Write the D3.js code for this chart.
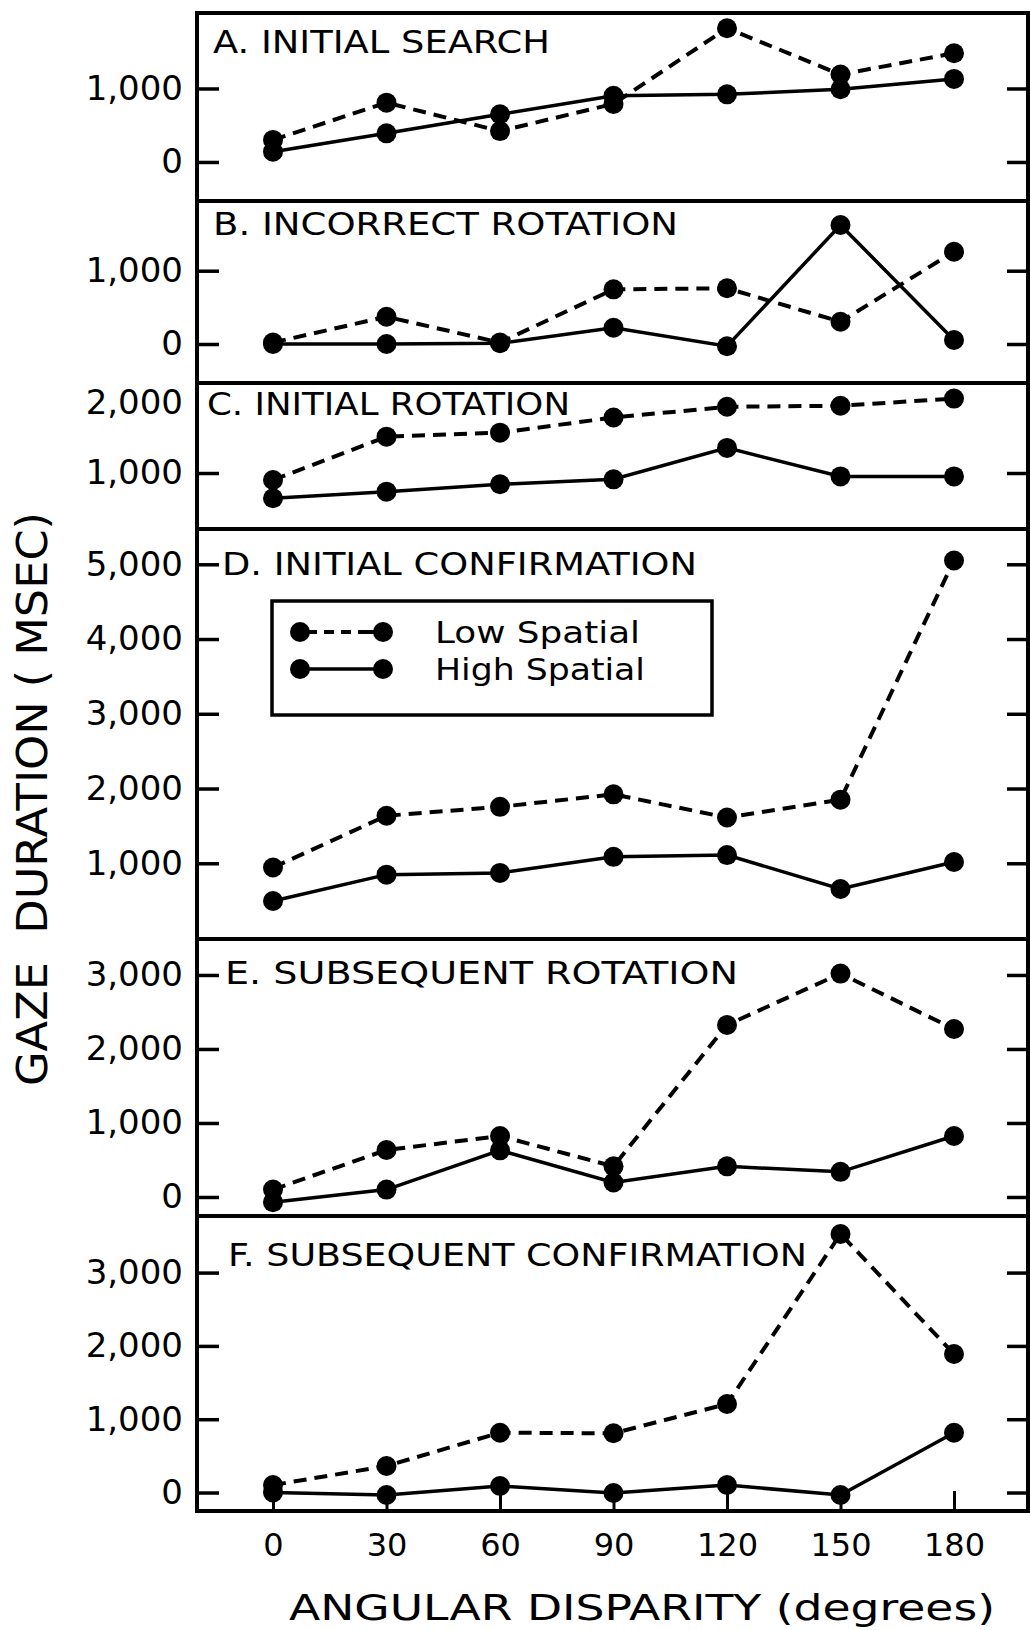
<!DOCTYPE html>
<html>
<head>
<meta charset="utf-8">
<script src="https://cdn.jsdelivr.net/npm/d3@7"></script>
<style>
  html, body { margin: 0; padding: 0; background: #fff; }
  svg { display: block; }
  text { font-family: "DejaVu Sans", sans-serif; fill: #000; }
</style>
</head>
<body>
<script>
// ---------------- DATA ----------------
const angles = [0, 30, 60, 90, 120, 150, 180];
const panelLabels = [
  "A. INITIAL SEARCH",
  "B. INCORRECT ROTATION",
  "C. INITIAL ROTATION",
  "D. INITIAL CONFIRMATION",
  "E. SUBSEQUENT ROTATION",
  "F. SUBSEQUENT CONFIRMATION"
];
const lowSpatialA  = [300, 807, 420, 790, 1820, 1190, 1480];
const highSpatialA = [140, 390, 650, 900, 920, 990, 1130];
const lowSpatialB  = [20, 372, 20, 746, 760, 304, 1259];
const highSpatialB = [0, 0, 10, 222, -30, 1623, 55];
const lowSpatialC  = [900, 1519, 1576, 1793, 1946, 1961, 2063];
const highSpatialC = [639, 733, 839, 910, 1359, 951, 951];
const lowSpatialD  = [943, 1636, 1755, 1922, 1612, 1851, 5051];
const highSpatialD = [495, 848, 871, 1086, 1110, 656, 1017];
const lowSpatialE  = [100, 635, 824, 414, 2324, 3019, 2270];
const highSpatialE = [-70, 100, 630, 196, 414, 340, 824];
const lowSpatialF  = [102, 362, 816, 808, 1207, 3527, 1890];
const highSpatialF = [0, -34, 89, -7, 102, -34, 816];

const yTicksA = [0, 1000];
const yTicksB = [0, 1000];
const yTicksC = [1000, 2000];
const yTicksD = [1000, 2000, 3000, 4000, 5000];
const yTicksE = [0, 1000, 2000, 3000];
const yTicksF = [0, 1000, 2000, 3000];

const legendLabels = ["Low Spatial", "High Spatial"];
const yAxisTitle = "GAZE  DURATION ( MSEC)";
const xAxisTitle = "ANGULAR DISPARITY (degrees)";

// ---------------- LAYOUT ----------------
const W = 1030, H = 1630;
const plotLeft = 197, plotRight = 1028, plotTop = 13, plotBottom = 1511;

const panelLayout = [
  { top: 13,   bottom: 201,  domain: [-531, 2027], tx: 213, ty: 40, tl: 337 },
  { top: 201,  bottom: 383,  domain: [-532, 1951], tx: 213, ty: 34, tl: 465 },
  { top: 383,  bottom: 529,  domain: [200, 2286],  tx: 207, ty: 32, tl: 363 },
  { top: 529,  bottom: 939,  domain: [-13, 5472],  tx: 222, ty: 46, tl: 475 },
  { top: 939,  bottom: 1216, domain: [-257, 3486], tx: 225, ty: 45, tl: 513 },
  { top: 1216, bottom: 1511, domain: [-252, 3772], tx: 228, ty: 50, tl: 579 }
];
const lowSeries  = [lowSpatialA, lowSpatialB, lowSpatialC, lowSpatialD, lowSpatialE, lowSpatialF];
const highSeries = [highSpatialA, highSpatialB, highSpatialC, highSpatialD, highSpatialE, highSpatialF];
const yTickSets  = [yTicksA, yTicksB, yTicksC, yTicksD, yTicksE, yTicksF];

const svg = d3.select("body").append("svg")
  .attr("width", W).attr("height", H);

const x = d3.scaleLinear().domain([0, 180]).range([273, 954]);
const fmt = d3.format(",");

const lineW = 3.5, dashW = 4, R = 10;

panelLayout.forEach((p, i) => {
  const y = d3.scaleLinear().domain(p.domain).range([p.bottom, p.top]);
  const g = svg.append("g");

  const la = g.append("g").attr("transform", `translate(${plotLeft},0)`)
    .call(d3.axisLeft(y).tickValues(yTickSets[i]).tickSize(-22).tickPadding(14).tickFormat(fmt));
  la.select(".domain").remove();
  la.selectAll("line").attr("stroke", "#000").attr("stroke-width", lineW);
  la.selectAll("text").attr("font-size", 34).attr("font-family", "DejaVu Sans").attr("fill", "#000");
  const ra = g.append("g").attr("transform", `translate(${plotRight},0)`)
    .call(d3.axisRight(y).tickValues(yTickSets[i]).tickSize(-21).tickFormat(""));
  ra.select(".domain").remove();
  ra.selectAll("line").attr("stroke", "#000").attr("stroke-width", lineW);
  if (i === 2) {
    la.selectAll(".tick").filter(d => d === 2000).select("line").remove();
    ra.selectAll(".tick").filter(d => d === 2000).remove();
  }

  g.append("text")
    .attr("x", p.tx).attr("y", p.top + p.ty)
    .attr("font-size", 32)
    .attr("textLength", p.tl).attr("lengthAdjust", "spacingAndGlyphs")
    .text(panelLabels[i]);

  const line = d3.line().x((d, k) => x(angles[k])).y(d => y(d));

  g.append("path").datum(lowSeries[i])
    .attr("d", line).attr("fill", "none").attr("stroke", "#000")
    .attr("stroke-width", dashW).attr("stroke-dasharray", "13,8");
  g.append("path").datum(highSeries[i])
    .attr("d", line).attr("fill", "none").attr("stroke", "#000")
    .attr("stroke-width", lineW);

  g.selectAll("circle.low").data(lowSeries[i]).enter().append("circle")
    .attr("cx", (d, k) => x(angles[k])).attr("cy", d => y(d)).attr("r", R).attr("fill", "#000");
  g.selectAll("circle.high").data(highSeries[i]).enter().append("circle")
    .attr("cx", (d, k) => x(angles[k])).attr("cy", d => y(d)).attr("r", R).attr("fill", "#000");

  if (i < panelLayout.length - 1) {
    svg.append("line").attr("x1", plotLeft).attr("x2", plotRight)
      .attr("y1", p.bottom).attr("y2", p.bottom)
      .attr("stroke", "#000").attr("stroke-width", 4);
  }
});

svg.append("rect")
  .attr("x", plotLeft).attr("y", plotTop)
  .attr("width", plotRight - plotLeft).attr("height", plotBottom - plotTop)
  .attr("fill", "none").attr("stroke", "#000").attr("stroke-width", 4);

const xa = svg.append("g").attr("transform", `translate(0,${plotBottom})`)
  .call(d3.axisBottom(x).tickValues(angles).tickSize(-20).tickPadding(22));
xa.select(".domain").remove();
xa.selectAll("line").attr("stroke", "#000").attr("stroke-width", 3);
xa.selectAll("text").attr("font-size", 32).attr("font-family", "DejaVu Sans").attr("fill", "#000");

svg.append("text")
  .attr("transform", "translate(47,799) rotate(-90)")
  .attr("text-anchor", "middle")
  .attr("font-size", 43)
  .attr("xml:space", "preserve")
  .style("white-space", "pre")
  .attr("textLength", 574).attr("lengthAdjust", "spacingAndGlyphs")
  .text(yAxisTitle);

svg.append("text")
  .attr("x", 289).attr("y", 1620)
  .attr("font-size", 36)
  .attr("textLength", 706).attr("lengthAdjust", "spacingAndGlyphs")
  .text(xAxisTitle);

// legend
const lg = svg.append("g");
lg.append("rect").attr("x", 272).attr("y", 601).attr("width", 440).attr("height", 114)
  .attr("fill", "#fff").attr("stroke", "#000").attr("stroke-width", 3.5);
const legendRows = [632, 669];
legendLabels.forEach((lab, k) => {
  const yy = legendRows[k];
  lg.append("line").attr("x1", 300).attr("x2", 383).attr("y1", yy).attr("y2", yy)
    .attr("stroke", "#000").attr("stroke-width", k === 0 ? dashW : lineW)
    .attr("stroke-dasharray", k === 0 ? "17,7,10,7,10,7,40" : null);
  lg.append("circle").attr("cx", 300).attr("cy", yy).attr("r", R).attr("fill", "#000");
  lg.append("circle").attr("cx", 383).attr("cy", yy).attr("r", R).attr("fill", "#000");
  lg.append("text").attr("x", 435).attr("y", yy + 11)
    .attr("font-size", 30)
    .attr("textLength", k === 0 ? 205 : 210).attr("lengthAdjust", "spacingAndGlyphs")
    .text(lab);
});
</script>
</body>
</html>
